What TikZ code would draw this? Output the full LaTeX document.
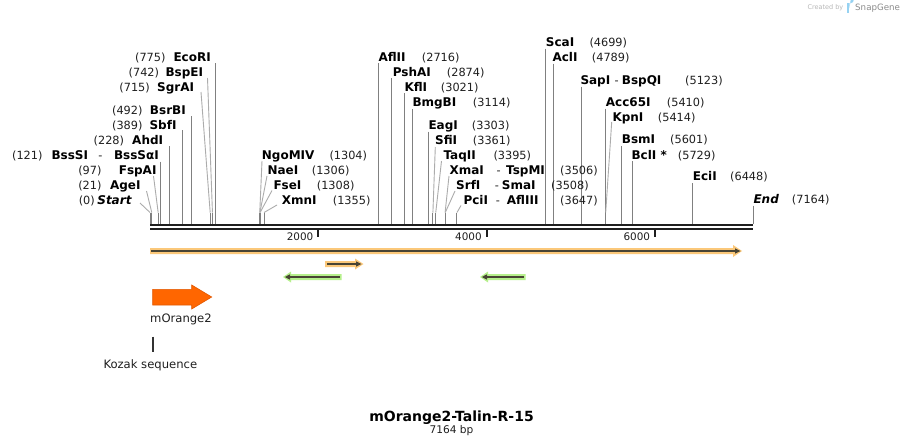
\documentclass[tikz,border=0pt]{standalone}
\usepackage{fontspec}
\setmainfont{DejaVu Sans}
\definecolor{cutline}{RGB}{128,128,128}
\definecolor{slantline}{RGB}{172,172,172}
\definecolor{haloOr}{RGB}{251,200,122}
\definecolor{haloGr}{RGB}{182,240,140}
\definecolor{primerdark}{RGB}{72,68,52}
\definecolor{orangeFeat}{RGB}{255,102,0}
\definecolor{orangeEdge}{RGB}{225,88,0}
\definecolor{logoblue}{RGB}{150,210,242}
\tikzset{
  nm/.style={inner sep=0pt, font=\fontsize{12}{14}\selectfont\bfseries},
  nmi/.style={inner sep=0pt, font=\fontsize{12}{14}\selectfont\bfseries\itshape},
  nb/.style={inner sep=0pt, font=\fontsize{11.3}{13}\selectfont, text=black!88},
  cut/.style={draw=cutline, line width=1pt},
  slant/.style={draw=slantline, line width=0.9pt},
  ticklab/.style={inner sep=0pt, font=\fontsize{10.4}{12}\selectfont, text=black!88},
  plain/.style={inner sep=0pt, font=\fontsize{11.6}{13}\selectfont, text=black!88},
}
\begin{document}
\begin{tikzpicture}[x=1pt,y=-1pt]
\fill[white] (0,0) rectangle (904,447);
\useasboundingbox (0,0) rectangle (904,447);

% ---------- straight cut lines ----------
\foreach \i/\x/\yt in {EcoRI/215.23/63, BsrBI/191.41/116, SbfI/182.74/130, AhdI/169.19/146, BssSI/160.18/161.5,
  AflII/378.61/63, PshAI/391.91/78, KflI/404.28/93, BmgBI/412.11/109, EagI/428.02/131.5,
  ScaI/545.52/48.5, AclI/553.10/63.5, SapI/581.21/86.5, AccSF/605.37/108.5, BsmI/621.44/146,
  BclI/632.22/161, EciI/692.74/183, End/753.0/205.5}
{ \coordinate (top\i) at (\x,\yt); \coordinate (cut\i) at (\x,224); \draw[cut] (top\i) -- (cut\i); }

% ---------- bent cut lines ----------
\foreach \i/\x/\ax/\ay in {Start/150/140/203, AgeI/151.77/146.5/191, FspAI/158.16/153.5/176,
  SgrAI/210.18/201/92, BspEI/212.45/207.5/78,
  NgoMIV/259.76/262/161, NaeI/259.93/267/176, FseI/260.10/272/190.5, XmnI/264.05/277/205,
  SfiI/432.90/435.3/147, TaqII/435.76/441.5/161, XmaI/445.10/449/176, SrfI/445.27/455/191,
  PciI/456.97/461/205.5, KpnI/605.70/611.7/122}
{ \coordinate (lab\i) at (\ax,\ay); \coordinate (knee\i) at (\x,212.5); \coordinate (cut\i) at (\x,224);
  \draw[slant] (lab\i) -- (knee\i); \draw[cut] (knee\i) -- (cut\i); }

% ---------- backbone ----------
\coordinate (bbL1) at (150,225.2); \coordinate (bbR1) at (753,225.2);
\coordinate (bbL2) at (150,229); \coordinate (bbR2) at (753,229);
\draw[line width=2.4pt, black!88] (bbL1) -- (bbR1);
\draw[line width=2pt, black!88] (bbL2) -- (bbR2);

% ticks
\foreach \t/\x in {2000/318.34, 4000/486.68, 6000/655.03}
{ \coordinate (ta\t) at (\x,229.5); \coordinate (tb\t) at (\x,237);
  \draw[line width=1.8pt, black!88] (ta\t) -- (tb\t);
  \node[ticklab, anchor=base east] (tl\t) at (\x-4.8,240.7) {\t}; }

% ---------- left labels ----------
\node[nm, anchor=base east] (nEcoRI) at (211,61.8) {EcoRI};
\node[nb, anchor=base east] (pEcoRI) at (165.7,61.8) {(775)};
\node[nm, anchor=base east] (nBspEI) at (203.3,76.7) {BspEI};
\node[nb, anchor=base east] (pBspEI) at (159.3,76.7) {(742)};
\node[nm, anchor=base east] (nSgrAI) at (194.3,91.6) {SgrAI};
\node[nb, anchor=base east] (pSgrAI) at (150,91.6) {(715)};
\node[nm, anchor=base east] (nBsrBI) at (186,114.8) {BsrBI};
\node[nb, anchor=base east] (pBsrBI) at (142.7,114.8) {(492)};
\node[nm, anchor=base east] (nSbfI) at (176.7,129.7) {SbfI};
\node[nb, anchor=base east] (pSbfI) at (142.7,129.7) {(389)};
\node[nm, anchor=base east] (nAhdI) at (163.3,144.6) {AhdI};
\node[nb, anchor=base east] (pAhdI) at (124.3,144.6) {(228)};
\node[nm, anchor=base east] (nBssSa) at (159,159.5) {BssSαI};
\node[nb, anchor=base] (dBssS) at (100.5,159.5) {-};
\node[nm, anchor=base east] (nBssSI) at (88.3,159.5) {BssSI};
\node[nb, anchor=base east] (pBssSI) at (42.7,159.5) {(121)};
\node[nm, anchor=base east] (nFspAI) at (156.7,174.4) {FspAI};
\node[nb, anchor=base east] (pFspAI) at (101.7,174.4) {(97)};
\node[nm, anchor=base east] (nAgeI) at (140.7,189.3) {AgeI};
\node[nb, anchor=base east] (pAgeI) at (101.7,189.3) {(21)};
\node[nmi, anchor=base east] (nStart) at (131.7,204.2) {Start};
\node[nb, anchor=base east] (pStart) at (95,204.2) {(0)};

% ---------- middle labels ----------
\node[nm, anchor=base west] (nNgoMIV) at (261.7,159.5) {NgoMIV};
\node[nb, anchor=base west] (pNgoMIV) at (329.3,159.5) {(1304)};
\node[nm, anchor=base west] (nNaeI) at (267.3,174.4) {NaeI};
\node[nb, anchor=base west] (pNaeI) at (311.7,174.4) {(1306)};
\node[nm, anchor=base west] (nFseI) at (273.3,189.3) {FseI};
\node[nb, anchor=base west] (pFseI) at (316.7,189.3) {(1308)};
\node[nm, anchor=base west] (nXmnI) at (281.7,204.2) {XmnI};
\node[nb, anchor=base west] (pXmnI) at (332.7,204.2) {(1355)};

\node[nm, anchor=base west] (nAflII) at (378.3,61.8) {AflII};
\node[nb, anchor=base west] (pAflII) at (421.7,61.8) {(2716)};
\node[nm, anchor=base west] (nPshAI) at (392.7,76.7) {PshAI};
\node[nb, anchor=base west] (pPshAI) at (446.7,76.7) {(2874)};
\node[nm, anchor=base west] (nKflI) at (404.3,91.6) {KflI};
\node[nb, anchor=base west] (pKflI) at (440.7,91.6) {(3021)};
\node[nm, anchor=base west] (nBmgBI) at (412.3,106.5) {BmgBI};
\node[nb, anchor=base west] (pBmgBI) at (472.7,106.5) {(3114)};
\node[nm, anchor=base west] (nEagI) at (428.3,129.7) {EagI};
\node[nb, anchor=base west] (pEagI) at (471.7,129.7) {(3303)};
\node[nm, anchor=base west] (nSfiI) at (435,144.6) {SfiI};
\node[nb, anchor=base west] (pSfiI) at (472.7,144.6) {(3361)};
\node[nm, anchor=base west] (nTaqII) at (443.3,159.5) {TaqII};
\node[nb, anchor=base west] (pTaqII) at (493.3,159.5) {(3395)};
\node[nm, anchor=base west] (nXmaI) at (449.3,174.4) {XmaI};
\node[nb, anchor=base] (dXmaI) at (498.7,174.4) {-};
\node[nm, anchor=base west] (nTspMI) at (506,174.4) {TspMI};
\node[nb, anchor=base west] (pXmaI) at (560,174.4) {(3506)};
\node[nm, anchor=base west] (nSrfI) at (456,189.3) {SrfI};
\node[nb, anchor=base] (dSrfI) at (497,189.3) {-};
\node[nm, anchor=base west] (nSmaI) at (501.7,189.3) {SmaI};
\node[nb, anchor=base west] (pSrfI) at (551,189.3) {(3508)};
\node[nm, anchor=base west] (nPciI) at (463.3,204.2) {PciI};
\node[nb, anchor=base] (dPciI) at (498,204.2) {-};
\node[nm, anchor=base west] (nAflIII) at (506.7,204.2) {AflIII};
\node[nb, anchor=base west] (pPciI) at (560,204.2) {(3647)};

% ---------- right labels ----------
\node[nm, anchor=base west] (nScaI) at (545.7,46.9) {ScaI};
\node[nb, anchor=base west] (pScaI) at (589.3,46.9) {(4699)};
\node[nm, anchor=base west] (nAclI) at (552.3,61.8) {AclI};
\node[nb, anchor=base west] (pAclI) at (591.7,61.8) {(4789)};
\node[nm, anchor=base west] (nSapI) at (580.3,84.2) {SapI};
\node[nb, anchor=base] (dSapI) at (616.7,84.2) {-};
\node[nm, anchor=base west] (nBspQI) at (621.7,84.2) {BspQI};
\node[nb, anchor=base west] (pSapI) at (685,84.2) {(5123)};
\node[nm, anchor=base west] (nAcc) at (605.7,106.5) {Acc65I};
\node[nb, anchor=base west] (pAcc) at (666.7,106.5) {(5410)};
\node[nm, anchor=base west] (nKpnI) at (612.3,121.5) {KpnI};
\node[nb, anchor=base west] (pKpnI) at (657.7,121.5) {(5414)};
\node[nm, anchor=base west] (nBsmI) at (621.7,143.5) {BsmI};
\node[nb, anchor=base west] (pBsmI) at (670,143.5) {(5601)};
\node[nm, anchor=base west] (nBclI) at (631.3,159.2) {BclI *};
\node[nb, anchor=base west] (pBclI) at (677.7,159.2) {(5729)};
\node[nm, anchor=base west] (nEciI) at (692.7,180.9) {EciI};
\node[nb, anchor=base west] (pEciI) at (730,180.9) {(6448)};
\node[nmi, anchor=base west] (nEnd) at (753.3,203.5) {End};
\node[nb, anchor=base west] (pEnd) at (791.7,203.5) {(7164)};

% ---------- primers ----------
\fill[haloOr] (150,248) -- (733,248) -- (733,245) -- (742,251) -- (733,257) -- (733,254) -- (150,254) -- cycle;
\draw[primerdark, line width=2pt] (151,251) -- (736,251);
\fill[primerdark] (735,248.3) -- (740.5,251) -- (735,253.7) -- cycle;

\fill[haloOr] (325,261) -- (355,261) -- (355,258.5) -- (363.5,264) -- (355,269.5) -- (355,267) -- (325,267) -- cycle;
\draw[primerdark, line width=2pt] (327,264) -- (357,264);
\fill[primerdark] (356,261.3) -- (361.5,264) -- (356,266.7) -- cycle;

\fill[haloGr] (341.7,274) -- (291,274) -- (291,271.5) -- (283,277) -- (291,282.5) -- (291,280) -- (341.7,280) -- cycle;
\draw[primerdark, line width=2pt] (289,277) -- (340,277);
\fill[primerdark] (290,274.3) -- (284.8,277) -- (290,279.7) -- cycle;

\fill[haloGr] (525.7,274) -- (488,274) -- (488,271.5) -- (480,277) -- (488,282.5) -- (488,280) -- (525.7,280) -- cycle;
\draw[primerdark, line width=2pt] (486,277) -- (524,277);
\fill[primerdark] (487,274.3) -- (481.8,277) -- (487,279.7) -- cycle;

% ---------- features ----------
\draw[fill=orangeFeat, draw=orangeEdge, line width=0.6pt] (152.7,289.3) -- (191.7,289.3) -- (191.7,285) -- (211.7,297) -- (191.7,309) -- (191.7,305) -- (152.7,305) -- cycle;
\node[plain, anchor=base west] (fOrange) at (150,322.5) {mOrange2};
\coordinate (kzTop) at (152.7,336.7); \coordinate (kzBot) at (152.7,351.7);
\draw[line width=1.6pt, black!80] (kzTop) -- (kzBot);
\node[plain, anchor=base west] (fKozak) at (103.3,368.5) {Kozak sequence};

% ---------- title ----------
\node[inner sep=0pt, anchor=base, font=\fontsize{14}{16}\selectfont\bfseries] (title) at (451.5,421.5) {mOrange2-Talin-R-15};
\node[inner sep=0pt, anchor=base, font=\fontsize{10.6}{12}\selectfont, text=black!88] (size) at (451.5,433.5) {7164 bp};

% ---------- logo ----------
\node[inner sep=0pt, anchor=base west, font=\fontsize{6.5}{8}\selectfont, text=black!28] (created) at (807.3,9.6) {Created by};
\fill[logoblue] (847,3) rectangle (849.4,12.7);
\fill[logoblue] (849.4,3) -- (851,3) arc[start angle=90, end angle=-90, radius=2.6] -- (849.4,8.2) -- cycle;
\node[inner sep=0pt, anchor=base west, font=\fontsize{8.7}{10}\selectfont, text=black!45] (snap) at (855,10.3) {SnapGene};
\end{tikzpicture}
\end{document}
